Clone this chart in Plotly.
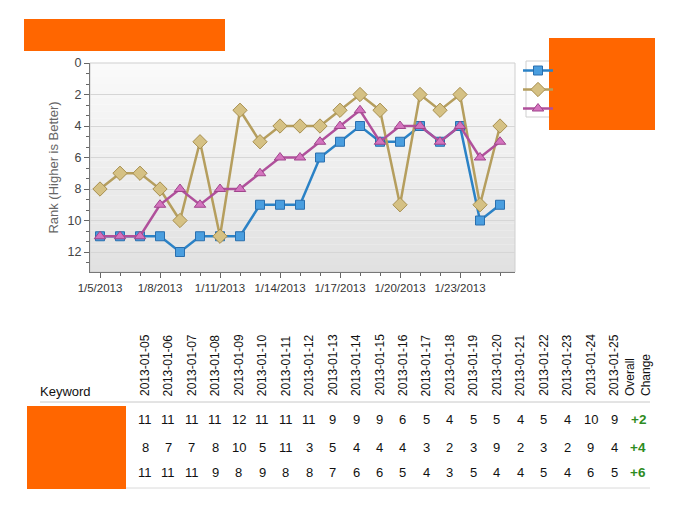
import plotly.graph_objects as go
import pandas as pd

# ---- data ----
dates = pd.date_range("2013-01-05", "2013-01-25", freq="D")
date_labels = [d.strftime("%Y-%m-%d") for d in dates]
series_names = ["Keyword A", "Keyword B", "Keyword C"]
blue_rank = [11, 11, 11, 11, 12, 11, 11, 11, 9, 9, 9, 6, 5, 4, 5, 5, 4, 5, 4, 10, 9]
gold_rank = [8, 7, 7, 8, 10, 5, 11, 3, 5, 4, 4, 4, 3, 2, 3, 9, 2, 3, 2, 9, 4]
pink_rank = [11, 11, 11, 9, 8, 9, 8, 8, 7, 6, 6, 5, 4, 3, 5, 4, 4, 5, 4, 6, 5]
y_axis_title = "Rank (Higher is Better)"
table_keyword_header = "Keyword"
table_change_header = "Overall<br>Change"

# ---- style ----
W, H = 692, 529
OFF = 8  # page body margin
L, R, T, B = 90, 515, 63, 272  # plot area in screen pixels
ORANGE = "#FF6600"
styles = [
    dict(line="#2B82C6", fill="#4A9EDF", edge="#2A6FAE", symbol="square", size=9),
    dict(line="#B59E5E", fill="#D5C184", edge="#A89050", symbol="diamond", size=11),
    dict(line="#B0509B", fill="#D473BE", edge="#A0458C", symbol="triangle-up", size=10),
]
all_series = [blue_rank, gold_rank, pink_rank]


def px(x):
    return (x - L) / (R - L)


def py(y):
    return (B - y) / (B - T)


fig = go.Figure()
for name, vals, st in zip(series_names, all_series, styles):
    fig.add_trace(go.Scatter(
        x=dates, y=vals, name=name, mode="lines+markers",
        line=dict(color=st["line"], width=2.5),
        marker=dict(symbol=st["symbol"], size=st["size"], color=st["fill"],
                    line=dict(color=st["edge"], width=1)),
    ))

shapes = []
# gradient plot background
n_bands = 30
top_c, bot_c = (250, 250, 250), (225, 225, 225)
for i in range(n_bands):
    t = i / (n_bands - 1)
    c = tuple(round(top_c[k] + (bot_c[k] - top_c[k]) * t) for k in range(3))
    shapes.append(dict(type="rect", xref="paper", yref="paper", layer="below",
                       x0=0, x1=1, y1=1 - i / n_bands, y0=1 - (i + 1) / n_bands,
                       fillcolor="rgb(%d,%d,%d)" % c, line=dict(width=0)))
# plot frame (light)
shapes.append(dict(type="rect", xref="paper", yref="paper", layer="below",
                   x0=0, x1=1, y0=0, y1=1, line=dict(color="#CFCFCF", width=1)))
# legend frame
shapes.append(dict(type="rect", xref="paper", yref="paper",
                   x0=px(526), x1=px(600), y0=py(117), y1=py(61),
                   line=dict(color="#CFCFCF", width=1), fillcolor="rgba(0,0,0,0)"))
# redaction boxes
shapes.append(dict(type="rect", xref="paper", yref="paper",
                   x0=px(24), x1=px(225), y0=py(51), y1=py(19),
                   fillcolor=ORANGE, line=dict(width=0)))
shapes.append(dict(type="rect", xref="paper", yref="paper",
                   x0=px(549), x1=px(655), y0=py(130), y1=py(38),
                   fillcolor=ORANGE, line=dict(width=0)))
# table lines
shapes.append(dict(type="line", xref="paper", yref="paper",
                   x0=px(40), x1=px(650), y0=py(402), y1=py(402),
                   line=dict(color="#C8C8C8", width=1)))
shapes.append(dict(type="line", xref="paper", yref="paper",
                   x0=px(40), x1=px(650), y0=py(488), y1=py(488),
                   line=dict(color="#DADADA", width=1)))
shapes.append(dict(type="rect", xref="paper", yref="paper",
                   x0=px(27), x1=px(126), y0=py(489), y1=py(406),
                   fillcolor=ORANGE, line=dict(width=0)))

annotations = []
family = "Liberation Sans, Arial, sans-serif"
header_font = dict(family=family, size=12, color="#111111")
table_font = dict(family=family, size=13, color="#111111")
col_x0, col_dx = 145, 23.45
change_x = 638
row_y = [419, 447, 472]
for i, lab in enumerate(date_labels):
    annotations.append(dict(xref="paper", yref="paper", x=px(col_x0 + col_dx * i), y=py(398),
                            text=lab, textangle=-90, showarrow=False,
                            xanchor="center", yanchor="bottom", font=header_font))
annotations.append(dict(xref="paper", yref="paper", x=px(change_x), y=py(398),
                        text=table_change_header, textangle=-90, showarrow=False, align="left",
                        xanchor="center", yanchor="bottom", font=header_font))
annotations.append(dict(xref="paper", yref="paper", x=px(38), y=py(401),
                        text=table_keyword_header, showarrow=False,
                        xanchor="left", yanchor="bottom", font=table_font))
for r, vals in enumerate(all_series):
    for i, v in enumerate(vals):
        annotations.append(dict(xref="paper", yref="paper", x=px(col_x0 + col_dx * i), y=py(row_y[r]),
                                text=str(v), showarrow=False, xanchor="center", yanchor="middle",
                                font=table_font))
    change = vals[0] - vals[-1]
    annotations.append(dict(xref="paper", yref="paper", x=px(change_x), y=py(row_y[r]),
                            text="<b>%+d</b>" % change, showarrow=False, xanchor="center",
                            yanchor="middle", font=dict(family=family, size=13.5,
                                                        color="#2E8B22")))

axis_font = dict(family=family, size=11.5, color="#333333")
fig.update_layout(
    width=W, height=H,
    margin=dict(l=L - OFF, r=W - (R - OFF), t=T - OFF, b=H - (B - OFF), autoexpand=False),
    paper_bgcolor="white", plot_bgcolor="rgba(0,0,0,0)",
    showlegend=True,
    legend=dict(x=px(518), y=py(56), xanchor="left", yanchor="top",
                bgcolor="rgba(0,0,0,0)", borderwidth=0,
                font=dict(size=11, color=ORANGE), tracegroupgap=0),
    shapes=shapes, annotations=annotations,
    xaxis=dict(
        type="date",
        range=["2013-01-04 12:00", "2013-01-25 18:00"],
        tick0="2013-01-05", dtick=3 * 86400000, tickformat="%-m/%-d/%Y",
        ticks="outside", ticklen=5, tickcolor="#666666",
        showgrid=False, zeroline=False,
        showline=True, linecolor="#777777", linewidth=1,
        tickfont=axis_font,
        minor=dict(dtick=86400000, tick0="2013-01-05", ticks="outside", ticklen=3,
                   tickcolor="#666666", showgrid=False),
    ),
    yaxis=dict(
        range=[13.27, 0], dtick=2, tick0=0,
        ticks="outside", ticklen=5, tickcolor="#666666",
        showgrid=True, gridcolor="#D6D6D6", gridwidth=1, zeroline=False,
        showline=True, linecolor="#777777", linewidth=1,
        tickfont=dict(family=family, size=12.5, color="#444444"),
        title=dict(text=y_axis_title, standoff=6,
                   font=dict(family=family, size=13, color="#666666")),
        minor=dict(dtick=2 / 3, tick0=0, ticks="outside", ticklen=3, tickcolor="#666666",
                   showgrid=False),
    ),
)

fig.write_html("out.html")
